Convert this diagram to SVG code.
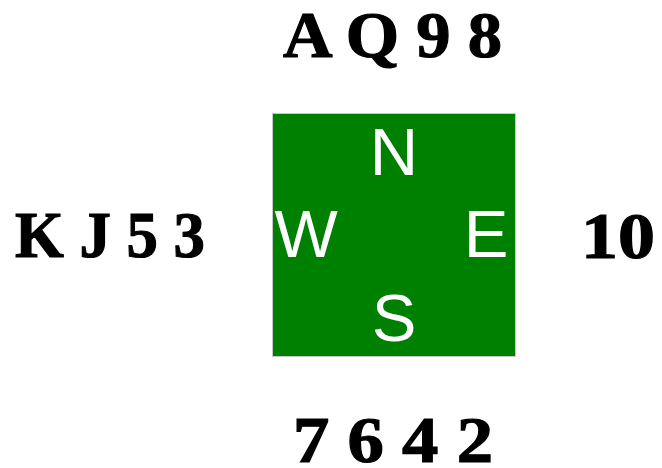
<svg xmlns="http://www.w3.org/2000/svg" width="662" height="468" viewBox="0 0 662 468">
<style>
.hand{font-family:"Liberation Serif","Times New Roman",serif;font-weight:bold;font-size:66px;fill:#000;stroke:#000;stroke-width:1.2}
.dir{font-family:"Liberation Sans",Arial,sans-serif;font-size:67px;fill:#fff}
</style>
<rect width="662" height="468" fill="#fff"/>
<g id="table">
<rect x="272.5" y="113.5" width="243" height="243" fill="#008000" stroke="#c8c8c8" stroke-width="1"/>
<text class="dir" x="394" y="175" text-anchor="middle">N</text>
<text class="dir" x="306" y="257" text-anchor="middle">W</text>
<text class="dir" x="486" y="257" text-anchor="middle">E</text>
<text class="dir" x="394" y="341" text-anchor="middle">S</text>
</g>
<g id="north"><text class="hand" x="283" y="57" textLength="219" lengthAdjust="spacingAndGlyphs">A Q 9 8</text></g>
<g id="west"><text class="hand" x="15" y="257" textLength="190" lengthAdjust="spacingAndGlyphs">K J 5 3</text></g>
<g id="east"><text class="hand" x="581" y="258" textLength="74" lengthAdjust="spacingAndGlyphs">10</text></g>
<g id="south"><text class="hand" x="293" y="462" textLength="200" lengthAdjust="spacingAndGlyphs">7 6 4 2</text></g>
<g id="connectors"/>
</svg>
